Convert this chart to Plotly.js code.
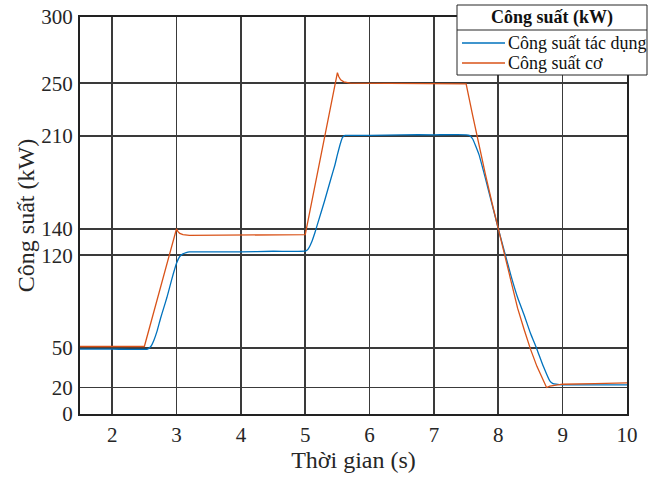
<!DOCTYPE html>
<html>
<head>
<meta charset="utf-8">
<script src="https://cdn.plot.ly/plotly-3.0.1.min.js"></script>
<style>html,body{margin:0;padding:0;background:#fff;}#chart{width:653px;height:479px;}</style>
</head>
<body>
<div id="chart"></div>
<script>
// Công suất cơ (mechanical power)
const tCo = [1.5, 2.0, 2.5, 3.0, 3.02, 3.05, 3.1, 3.2, 3.5, 4.0, 4.5, 4.98, 5.0, 5.5, 5.52, 5.55, 5.6, 5.7, 6.0, 6.5, 7.0, 7.49, 7.5, 7.6, 7.7, 7.8, 7.9, 8.0, 8.1, 8.2, 8.3, 8.4, 8.5, 8.6, 8.7, 8.75, 8.8, 8.9, 9.0, 9.5, 10.0];
const pCo = [51, 51, 51, 140, 138, 136.5, 135.5, 135, 135, 135, 135, 135.5, 135.5, 258, 255, 252.5, 251, 250, 250, 250, 250, 250, 249.5, 226, 203, 181, 160, 140, 119, 98, 80, 64, 49, 36, 25, 20, 21, 22, 22.5, 23, 23.5];
// Công suất tác dụng (active power)
const tTd = [1.5, 2.0, 2.55, 2.6, 2.65, 2.7, 2.75, 2.8, 2.85, 2.9, 2.95, 3.0, 3.05, 3.1, 3.15, 3.2, 3.5, 4.0, 4.5, 5.0, 5.02, 5.05, 5.1, 5.15, 5.2, 5.3, 5.4, 5.46, 5.5, 5.55, 5.58, 5.62, 5.7, 6.0, 6.5, 7.0, 7.5, 7.55, 7.6, 7.7, 7.8, 7.9, 8.0, 8.1, 8.2, 8.3, 8.4, 8.5, 8.6, 8.7, 8.8, 8.85, 8.9, 9.0, 9.5, 10.0];
const pTd = [49, 49, 49, 51, 56, 63, 72, 80, 88, 97, 106, 114, 119, 121, 122, 122.5, 122.5, 122.5, 123, 123, 123.5, 125, 130, 137, 145, 161, 178, 188, 196, 205, 209, 210.5, 210.5, 210.5, 211, 211, 211, 210.5, 208, 196, 178, 159, 140, 122, 104, 88, 75, 61, 49, 36, 25, 23, 22.5, 22, 22, 22];
const xTicks = [2, 3, 4, 5, 6, 7, 8, 9, 10];
const yTicks = [0, 20, 50, 120, 140, 210, 250, 300];
const seriesNames = ['Công suất tác dụng', 'Công suất cơ'];
const seriesColors = ['#0072BD', '#D95319'];
const legendTitle = 'Công suất (kW)';

const font = 'Liberation Serif';
const W = 653, H = 479, M = {l: 80, r: 26, t: 17, b: 65};
const pw = W - M.l - M.r, ph = H - M.t - M.b;
// pixel -> paper helpers for the framed legend box
const px = function (x) { return (x - M.l) / pw; };
const py = function (y) { return (H - M.b - y) / ph; };

const data = [
  {x: tTd, y: pTd, name: seriesNames[0], type: 'scatter', mode: 'lines', line: {color: seriesColors[0], width: 1.3, shape: 'spline', smoothing: 0.4}},
  {x: tCo, y: pCo, name: seriesNames[1], type: 'scatter', mode: 'lines', line: {color: seriesColors[1], width: 1.3}}
];
const axisCommon = {
  showgrid: true, gridcolor: '#3a3a3a', gridwidth: 1.6,
  showline: true, linecolor: '#222', linewidth: 2, mirror: true,
  zeroline: false, ticks: 'outside', ticklen: 1, tickcolor: 'rgba(0,0,0,0)',
  tickfont: {family: font, size: 21, color: '#262626'}
};

// legend box drawn as shapes + annotations
const box = {x0: 457, x1: 647, y0: 5, y1: 75, sep: 30};
const rowsY = [43, 63];
const shapes = [
  {type: 'rect', xref: 'paper', yref: 'paper', x0: px(box.x0), x1: px(box.x1), y0: py(box.y1), y1: py(box.y0), layer: 'above', fillcolor: '#fff', line: {color: '#262626', width: 1}},
  {type: 'line', xref: 'paper', yref: 'paper', x0: px(box.x0), x1: px(box.x1), y0: py(box.sep), y1: py(box.sep), layer: 'above', line: {color: '#262626', width: 1}}
];
const annotations = [
  {xref: 'paper', yref: 'paper', x: px((box.x0 + box.x1) / 2), y: py(18), xanchor: 'center', yanchor: 'middle', showarrow: false,
   text: '<b>' + legendTitle + '</b>', font: {family: font, size: 18, color: '#111'}}
];
seriesNames.forEach(function (n, i) {
  shapes.push({type: 'line', xref: 'paper', yref: 'paper', x0: px(462), x1: px(505), y0: py(rowsY[i]), y1: py(rowsY[i]), layer: 'above', line: {color: seriesColors[i], width: 1.3}});
  annotations.push({xref: 'paper', yref: 'paper', x: px(506), y: py(rowsY[i]), xanchor: 'left', yanchor: 'middle', showarrow: false,
    text: n, font: {family: font, size: 18, color: '#111'}});
});

const layout = {
  width: W, height: H,
  margin: {l: M.l, r: M.r, t: M.t, b: M.b, autoexpand: false},
  paper_bgcolor: '#fff', plot_bgcolor: '#fff',
  font: {family: font, color: '#262626'},
  xaxis: Object.assign({}, axisCommon, {range: [1.5, 10], tickvals: xTicks, ticktext: xTicks.map(String),
    title: {text: 'Thời gian (s)', font: {family: font, size: 24, color: '#262626'}, standoff: 4}}),
  yaxis: Object.assign({}, axisCommon, {range: [0, 300], tickvals: yTicks, ticktext: yTicks.map(String),
    title: {text: 'Công suất (kW)', font: {family: font, size: 24, color: '#262626'}, standoff: 0}}),
  showlegend: false,
  shapes: shapes,
  annotations: annotations
};
Plotly.newPlot('chart', data, layout, {staticPlot: true, displayModeBar: false});
</script>
</body>
</html>
